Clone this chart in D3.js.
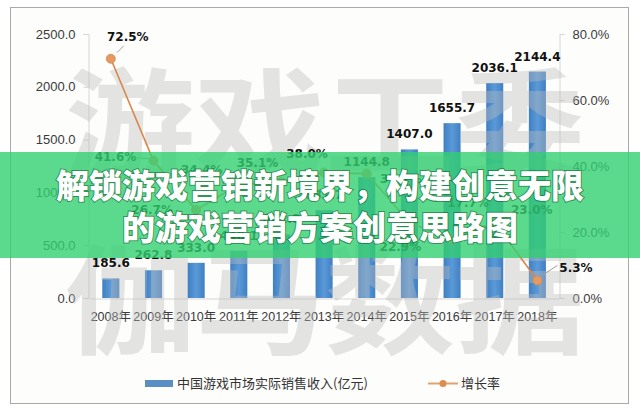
<!DOCTYPE html>
<html>
<head>
<meta charset="utf-8">
<script src="https://cdn.jsdelivr.net/npm/d3@7/dist/d3.min.js"></script>
<style>
html,body{margin:0;padding:0;background:#fff;}
svg{display:block;}
</style>
</head>
<body>
<svg id="chart" width="640" height="410"></svg>
<script>
// ---- data ----
const years = ["2008年","2009年","2010年","2011年","2012年","2013年","2014年","2015年","2016年","2017年","2018年"];
const revenue = [185.6, 262.8, 333.0, 446.1, 602.8, 831.7, 1144.8, 1407.0, 1655.7, 2036.1, 2144.4];
const growth = [0.725, 0.416, 0.267, 0.344, 0.351, 0.380, 0.377, 0.229, 0.177, 0.230, 0.053];
const leftTicks = [0, 500, 1000, 1500, 2000, 2500];
const rightTicks = [0, 0.2, 0.4, 0.6, 0.8];
const seriesNames = ["中国游戏市场实际销售收入(亿元)", "增长率"];
const titleLines = ["解锁游戏营销新境界，构建创意无限", "的游戏营销方案创意思路图"];
const watermarkRows = ["游戏工委", "伽马数据"];
// label offsets for growth labels (styling)
const rateLabelOffsets = [[17,-18],[-38,0],[-44,4],[-37,-10],[-24,-15],[-17,-15],[34,9],[-9,29],[16,-33],[37,-8],[37,-9]];

const svg = d3.select("#chart");
const W = 640, H = 410;

// frame
svg.append("rect").attr("x",0).attr("y",0).attr("width",W).attr("height",H).attr("fill","#ffffff");
svg.append("rect").attr("x",10.5).attr("y",7.5).attr("width",618).attr("height",396)
  .attr("fill","#fdfdfc").attr("stroke","#a9a9a9").attr("stroke-width",1);

const x = d3.scaleBand().domain(years).range([89.5, 558.7]).paddingInner(0.6).paddingOuter(0.3);
const yL = d3.scaleLinear().domain([0,2500]).range([298,34]);
const yR = d3.scaleLinear().domain([0,0.8]).range([298,34]);

// axes
const axL = svg.append("g").attr("transform","translate(88.5,0)")
  .call(d3.axisLeft(yL).tickValues(leftTicks).tickFormat(d3.format(".1f")).tickSize(5).tickPadding(8));
const axR = svg.append("g").attr("transform","translate(559.5,0)")
  .call(d3.axisRight(yR).tickValues(rightTicks).tickFormat(d3.format(".1%")).tickSize(5).tickPadding(8));
const axB = svg.append("g").attr("transform","translate(0,298.5)")
  .call(d3.axisBottom(x).tickSize(0).tickPadding(14));
[axL, axR, axB].forEach(g => {
  g.selectAll("path").attr("stroke","#d6d6d6");
  g.selectAll("line").attr("stroke","#d6d6d6");
  g.selectAll("text").attr("fill","#3a3a3a").style("font-family","'Liberation Sans','Noto Sans CJK SC',sans-serif").style("font-size","13px");
});
axB.selectAll("text").style("font-size","12.5px");

// bars
const grad = svg.append("defs").append("linearGradient").attr("id","bg").attr("x1","0").attr("x2","1");
grad.append("stop").attr("offset","0").attr("stop-color","#3f7fc2");
grad.append("stop").attr("offset","0.5").attr("stop-color","#5b9ad8");
grad.append("stop").attr("offset","1").attr("stop-color","#3f7fc2");

svg.append("g").selectAll("rect").data(revenue).join("rect")
  .attr("x",(d,i)=>x(years[i]))
  .attr("width",x.bandwidth())
  .attr("y",d=>yL(d))
  .attr("height",d=>yL(0)-yL(d))
  .attr("fill","url(#bg)");

// faint watermark over the plot
const wm = svg.append("g").attr("opacity",0.4);
wm.selectAll("text").data(watermarkRows).join("text")
  .attr("x",65).attr("y",(d,i)=> i===0 ? 168 : 345)
  .attr("textLength",520).attr("lengthAdjust","spacingAndGlyphs")
  .attr("fill","#bdbdbd")
  .style("font-family","'Noto Sans CJK SC',sans-serif").style("font-weight",700).style("font-size","118px")
  .text(d=>d);

// growth line
const cx = (i)=> x(years[i]) + x.bandwidth()/2;
const line = d3.line().x((d,i)=>cx(i)).y(d=>yR(d));
svg.append("path").datum(growth).attr("d",line).attr("fill","none").attr("stroke","#d9864a").attr("stroke-width",1.6);
svg.append("g").selectAll("circle").data(growth).join("circle")
  .attr("cx",(d,i)=>cx(i)).attr("cy",d=>yR(d)).attr("r",4.5)
  .attr("fill","#e39a63").attr("stroke","#d9864a").attr("stroke-width",0.8);

// leader lines for a few labels
const leaders = [0,1,10];
svg.append("g").selectAll("line").data(leaders).join("line")
  .attr("x1",i=>cx(i) + (i===1? -17 : 6))
  .attr("y1",i=>yR(growth[i]) + (i===1? -3 : -6))
  .attr("x2",i=>cx(i) + (i===1? -5 : (i===0? 13 : 20)))
  .attr("y2",i=>yR(growth[i]) + (i===1? -2 : (i===0? -13 : -15)))
  .attr("stroke","#a0a0a0").attr("stroke-width",1);

const labelFont = "'DejaVu Sans','Liberation Sans',sans-serif";
// growth labels
svg.append("g").selectAll("text").data(growth).join("text")
  .attr("x",(d,i)=>cx(i)+rateLabelOffsets[i][0])
  .attr("y",(d,i)=>yR(d)+rateLabelOffsets[i][1])
  .attr("text-anchor",(d,i)=> i===10 ? "start" : "middle")
  .attr("dx",(d,i)=> i===10 ? -15 : 0)
  .attr("fill","#111")
  .style("font-family",labelFont).style("font-weight","bold").style("font-size","12px")
  .text(d=>d3.format(".1%")(d));

// bar labels
svg.append("g").selectAll("text").data(revenue).join("text")
  .attr("x",(d,i)=>cx(i))
  .attr("y",d=>yL(d)-11)
  .attr("text-anchor","middle")
  .attr("fill","#111")
  .style("font-family",labelFont).style("font-weight","bold").style("font-size","12px")
  .text(d=>d3.format(".1f")(d));

// legend
const lg = svg.append("g");
lg.append("rect").attr("x",145).attr("y",380).attr("width",28).attr("height",7).attr("fill","#5a8ec4");
lg.append("text").attr("x",177).attr("y",388).text(seriesNames[0]);
lg.append("line").attr("x1",428).attr("x2",458).attr("y1",383.5).attr("y2",383.5).attr("stroke","#e0a26c").attr("stroke-width",2);
lg.append("circle").attr("cx",443).attr("cy",383.5).attr("r",3.5).attr("fill","#dd8b4e");
lg.append("text").attr("x",461).attr("y",388).text(seriesNames[1]);
lg.selectAll("text").attr("fill","#333").style("font-family","'Noto Sans CJK SC',sans-serif").style("font-size","13px");

// banner overlay
svg.append("rect").attr("x",0).attr("y",152).attr("width",W).attr("height",106)
  .attr("fill","rgb(50,208,112)").attr("opacity",0.8);
svg.append("g").selectAll("text").data(titleLines).join("text")
  .attr("x",320).attr("y",(d,i)=> i===0 ? 198 : 240)
  .attr("text-anchor","middle")
  .attr("fill","#ffffff")
  .attr("stroke","rgba(0,60,20,0.45)").attr("stroke-width",2).style("paint-order","stroke")
  .style("font-family","'Noto Sans CJK SC',sans-serif").style("font-weight",900).style("font-size","33px")
  .text(d=>d);
</script>
</body>
</html>
